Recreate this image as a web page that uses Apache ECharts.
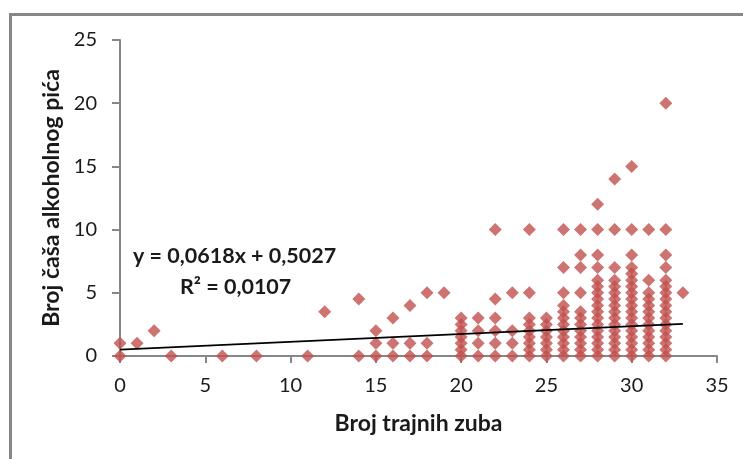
<!DOCTYPE html>
<html>
<head>
<meta charset="utf-8">
<script src="https://cdn.jsdelivr.net/npm/echarts@6/dist/echarts.min.js"></script>
<style>
  html, body { margin: 0; padding: 0; background: #fff; }
  #chart { width: 743px; height: 459px; }
</style>
</head>
<body>
<div id="chart"></div>
<script>
// Number of permanent teeth (x) and, for each, the glasses of alcohol reported (y)
const teethCounts = [0, 1, 2, 3, 6, 8, 11, 12, 14, 15, 16, 17, 18, 19, 20, 21, 22, 23, 24, 25, 26, 27, 28, 29, 30, 31, 32, 33];
const glassesPerGroup = [
  [0, 1],
  [1],
  [2],
  [0],
  [0],
  [0],
  [0],
  [3.5],
  [0, 4.5],
  [0, 1, 2],
  [0, 1, 3],
  [0, 1, 4],
  [0, 1, 5],
  [5],
  [0, 0.5, 1, 1.5, 2, 2.5, 3],
  [0, 1, 2, 3],
  [0, 1, 2, 3, 4.5, 10],
  [0, 1, 2, 5],
  [0, 0.5, 1, 1.5, 2, 2.5, 3, 5, 10],
  [0, 0.5, 1, 1.5, 2, 2.5, 3],
  [0, 0.5, 1, 1.5, 2, 2.5, 3, 3.5, 4, 5, 7, 10],
  [0, 0.5, 1, 1.5, 2, 2.5, 3, 3.5, 5, 7, 8, 10],
  [0, 0.5, 1, 1.5, 2, 2.5, 3, 3.5, 4, 4.5, 5, 5.5, 6, 7, 8, 10, 12],
  [0, 0.5, 1, 1.5, 2, 2.5, 3, 3.5, 4, 4.5, 5, 5.5, 6, 7, 10, 14],
  [0, 0.5, 1, 1.5, 2, 2.5, 3, 3.5, 4, 4.5, 5, 5.5, 6, 6.5, 7, 8, 10, 15],
  [0, 0.5, 1, 1.5, 2, 2.5, 3, 3.5, 4, 4.5, 5, 6, 10],
  [0, 0.5, 1, 1.5, 2, 2.5, 3, 3.5, 4, 4.5, 5, 5.5, 6, 7, 8, 10, 20],
  [5]
];

// Linear trend line as reported: y = 0,0618x + 0,5027, R² = 0,0107
const trendSlope = 0.0618;
const trendIntercept = 0.5027;
const trendRange = [0, 33];
const rSquared = 0.0107;

const xTicks = { min: 0, max: 35, interval: 5 };
const yTicks = { min: 0, max: 25, interval: 5 };

const points = [];
teethCounts.forEach((t, i) => {
  glassesPerGroup[i].forEach(g => points.push([t, g]));
});
const trendPoints = trendRange.map(x => [x, trendSlope * x + trendIntercept]);

const fmt = v => String(v).replace('.', ',');

const FONT = 'Lato, "Open Sans", sans-serif';
const AXIS_GRAY = '#878787';
const TEXT = '#1a1a1a';

const chart = echarts.init(document.getElementById('chart'), null, { renderer: 'canvas' });
chart.setOption({
  animation: false,
  backgroundColor: '#ffffff',
  grid: { left: 120, right: 26, top: 40, bottom: 103, containLabel: false },
  xAxis: {
    type: 'value',
    min: xTicks.min, max: xTicks.max, interval: xTicks.interval,
    name: 'Broj trajnih zuba',
    nameLocation: 'middle',
    nameGap: 56,
    nameTextStyle: { fontFamily: FONT, fontWeight: 'bold', fontSize: 23, color: TEXT },
    axisLine: { show: true, onZero: true, lineStyle: { color: AXIS_GRAY, width: 2 } },
    axisTick: { show: true, inside: false, length: 7, lineStyle: { color: AXIS_GRAY, width: 2 } },
    axisLabel: { fontFamily: FONT, fontSize: 20, color: TEXT, margin: 20 },
    splitLine: { show: false }
  },
  yAxis: {
    type: 'value',
    min: yTicks.min, max: yTicks.max, interval: yTicks.interval,
    name: 'Broj čaša alkoholnog pića',
    nameLocation: 'middle',
    nameGap: 51,
    nameRotate: 90,
    nameTextStyle: { fontFamily: FONT, fontWeight: 'bold', fontSize: 23, color: TEXT },
    axisLine: { show: true, lineStyle: { color: AXIS_GRAY, width: 2 } },
    axisTick: { show: true, inside: false, length: 8, lineStyle: { color: AXIS_GRAY, width: 2 } },
    axisLabel: { fontFamily: FONT, fontSize: 20, color: TEXT, margin: 23 },
    splitLine: { show: false }
  },
  graphic: [
    {
      type: 'rect',
      shape: { x: 10.5, y: 14.5, width: 900, height: 600 },
      style: { fill: 'none', stroke: AXIS_GRAY, lineWidth: 3 },
      silent: true
    },
    {
      type: 'text',
      left: 133, top: 245,
      style: {
        text: 'y = ' + fmt(trendSlope) + 'x + ' + fmt(trendIntercept),
        font: 'bold 21.5px ' + FONT, fill: TEXT
      }
    },
    {
      type: 'text',
      left: 180, top: 276,
      style: {
        text: 'R² = ' + fmt(rSquared),
        font: 'bold 21.5px ' + FONT, fill: TEXT
      }
    }
  ],
  series: [
    {
      type: 'scatter',
      data: points,
      symbol: 'diamond',
      symbolSize: 13,
      itemStyle: { color: '#C0504D' },
      z: 2
    },
    {
      type: 'line',
      data: trendPoints,
      showSymbol: false,
      symbol: 'none',
      lineStyle: { color: '#000000', width: 1.6 },
      z: 3
    }
  ]
});
</script>
</body>
</html>
